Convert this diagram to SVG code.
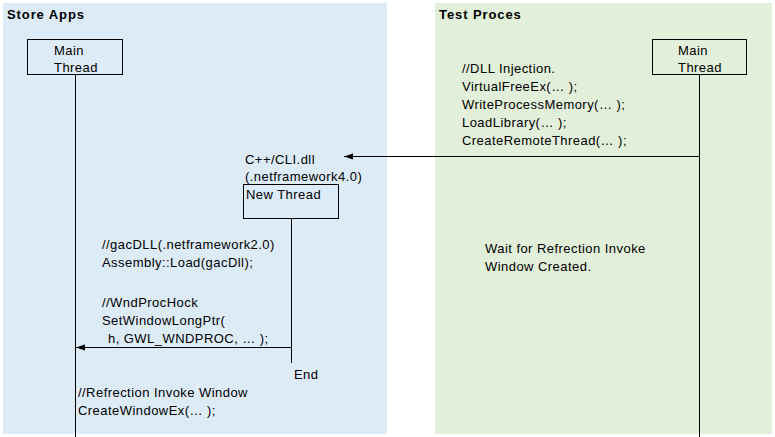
<svg xmlns="http://www.w3.org/2000/svg" width="775" height="437" viewBox="0 0 775 437">
<defs>
<style>
text{font-family:"Liberation Sans",Arial,sans-serif;font-size:13px;fill:#000;letter-spacing:0.45px}
.title{font-weight:bold;font-size:13px;letter-spacing:0.9px}
.box{fill:none;stroke:#000;stroke-width:1}
.line{stroke:#000;stroke-width:1;fill:none}
</style>
<marker id="arr" markerWidth="10" markerHeight="8" refX="9" refY="4" orient="auto" markerUnits="userSpaceOnUse">
<path d="M0,1 L9,4 L0,7 Z" fill="#000"/>
</marker>
</defs>
<rect width="775" height="437" fill="#fff"/>
<g id="panel-store">
<rect x="3" y="3" width="384" height="431" fill="#DDEBF7"/>
<text class="title" x="7" y="19">Store Apps</text>
</g>
<g id="panel-test">
<rect x="435" y="3" width="337" height="431" fill="#E2EFDA"/>
<text class="title" x="439" y="19">Test Proces</text>
</g>
<g id="store-main">
<rect class="box" x="27.5" y="39.5" width="95" height="35"/>
<text x="54" y="55">Main</text>
<text x="54" y="72">Thread</text>
</g>
<g id="test-main">
<rect class="box" x="652.5" y="39.5" width="94" height="35"/>
<text x="678" y="55">Main</text>
<text x="678" y="72">Thread</text>
</g>
<g id="new-thread">
<text x="245" y="164">C++/CLI.dll</text>
<text x="245" y="181">(.netframework4.0)</text>
<rect class="box" x="243.5" y="184.5" width="95" height="34"/>
<text x="246" y="199">New Thread</text>
</g>
<g id="injection-text">
<text x="462" y="73">//DLL Injection.</text>
<text x="462" y="91">VirtualFreeEx(… );</text>
<text x="462" y="109">WriteProcessMemory(… );</text>
<text x="462" y="127">LoadLibrary(… );</text>
<text x="462" y="145">CreateRemoteThread(… );</text>
</g>
<g id="wait-text">
<text x="485" y="253">Wait for Refrection Invoke</text>
<text x="485" y="271">Window Created.</text>
</g>
<g id="thread-text">
<text x="102" y="249">//gacDLL(.netframework2.0)</text>
<text x="102" y="267">Assembly::Load(gacDll);</text>
<text x="102" y="307">//WndProcHock</text>
<text x="102" y="325">SetWindowLongPtr(</text>
<text x="108" y="343">h, GWL_WNDPROC, … );</text>
<text x="294" y="379">End</text>
</g>
<g id="create-text">
<text x="78" y="397">//Refrection Invoke Window</text>
<text x="78" y="415">CreateWindowEx(… );</text>
</g>
<g id="connectors">
<line class="line" x1="75.5" y1="75" x2="75.5" y2="437"/>
<line class="line" x1="699.5" y1="75" x2="699.5" y2="437"/>
<line class="line" x1="291.5" y1="219" x2="291.5" y2="363"/>
<line class="line" x1="699" y1="156.5" x2="344" y2="156.5" marker-end="url(#arr)"/>
<line class="line" x1="291" y1="347.5" x2="76" y2="347.5" marker-end="url(#arr)"/>
</g>
</svg>
